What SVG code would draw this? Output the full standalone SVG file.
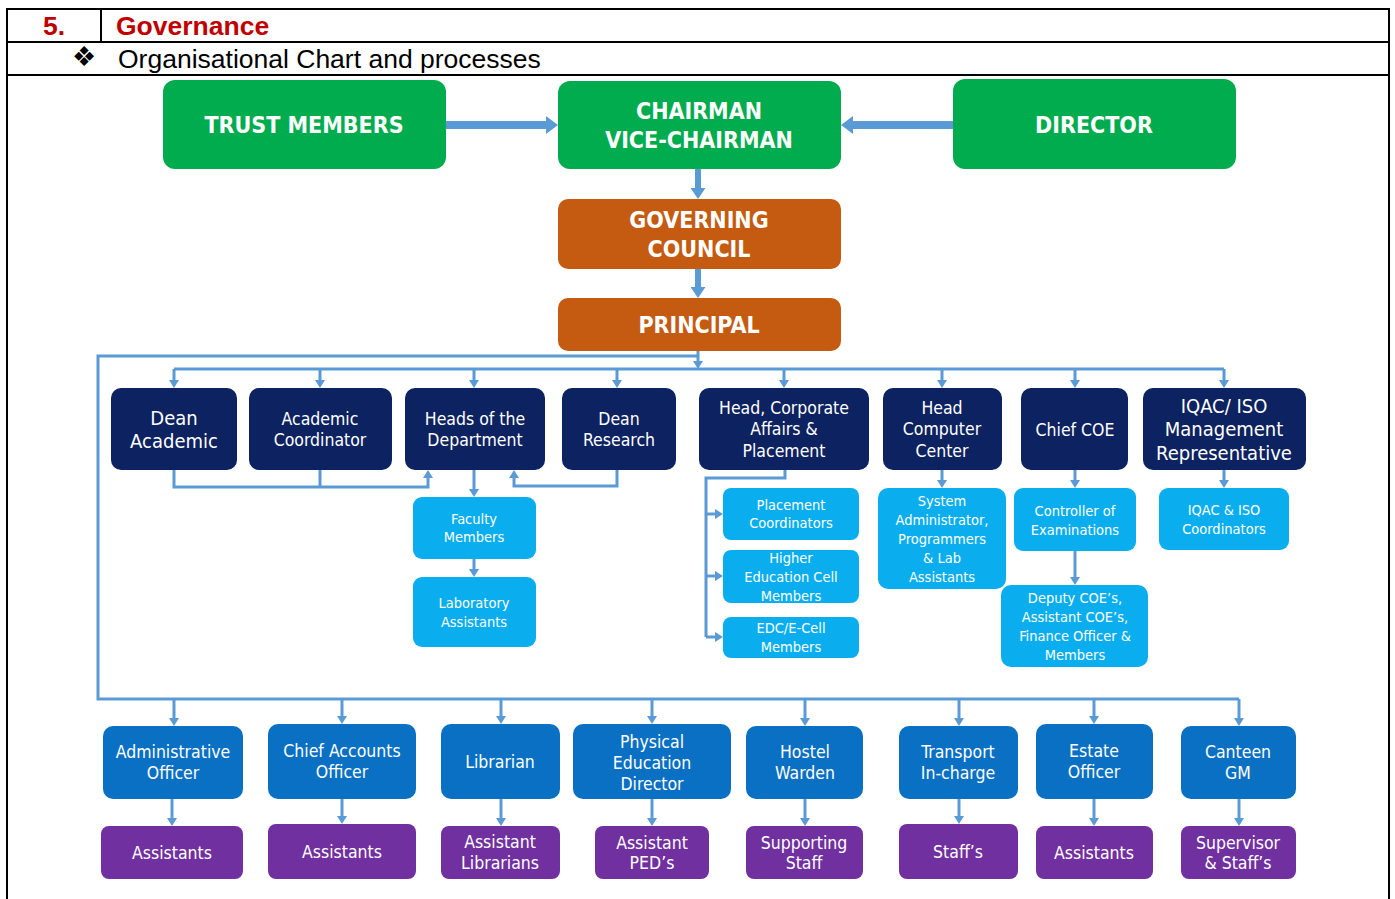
<svg xmlns="http://www.w3.org/2000/svg" width="1395" height="899" viewBox="0 0 1395 899">
<style>
.hdr{font-family:"Liberation Sans",Arial,sans-serif;font-size:26.5px}
.red{fill:#C00000;font-weight:bold}
.t{font-family:"DejaVu Sans Condensed","DejaVu Sans",sans-serif;fill:#fff;text-anchor:middle;dominant-baseline:central}
.b{font-weight:bold;font-size:23px}
.m{font-size:17.5px}
.l{font-size:20px}
.s{font-size:14.5px}
.g{fill:#00AC4E}
.o{fill:#C55A11}
.n{fill:#0D2260}
.c{fill:#0AAEEF}
.bl{fill:#0A70C4}
.p{fill:#7030A0}
.ln{stroke:#5B9BD5;stroke-width:3;fill:none}
.th{stroke:#5B9BD5;stroke-width:8;fill:none}
.tm{stroke:#5B9BD5;stroke-width:6;fill:none}
</style>
<defs>
<marker id="a" viewBox="0 0 10 10" refX="0" refY="5" markerWidth="8" markerHeight="10" preserveAspectRatio="none" markerUnits="userSpaceOnUse" orient="auto"><path d="M0,0 L10,5 L0,10 z" fill="#5B9BD5"/></marker>
<marker id="A" viewBox="0 0 10 10" refX="0" refY="5" markerWidth="12" markerHeight="18" preserveAspectRatio="none" markerUnits="userSpaceOnUse" orient="auto"><path d="M0,0 L10,5 L0,10 z" fill="#5B9BD5"/></marker>
<marker id="B" viewBox="0 0 10 10" refX="0" refY="5" markerWidth="11" markerHeight="15" preserveAspectRatio="none" markerUnits="userSpaceOnUse" orient="auto"><path d="M0,0 L10,5 L0,10 z" fill="#5B9BD5"/></marker>
</defs>
<rect width="1395" height="899" fill="#fff"/>
<g id="table" stroke="#000" stroke-width="2" fill="none">
<path d="M7,899 V9 H1389 V899"/>
<path d="M7,42 H1389 M7,75 H1389 M101,9 V42"/>
</g>
<g id="header">
<text class="hdr red" x="43" y="35">5.</text>
<text class="hdr red" x="116" y="35">Governance</text>
<text class="hdr" x="72" y="66" font-size="16">❖</text>
<text class="hdr" x="118" y="68">Organisational Chart and processes</text>
</g>
<g id="connectors">
<line class="th" x1="446" y1="125" x2="546" y2="125" marker-end="url(#A)"/>
<line class="th" x1="953" y1="125" x2="853" y2="125" marker-end="url(#A)"/>
<line class="tm" x1="698" y1="169" x2="698" y2="188" marker-end="url(#B)"/>
<line class="tm" x1="698" y1="269" x2="698" y2="287" marker-end="url(#B)"/>
<line class="ln" x1="698" y1="351" x2="698" y2="361" marker-end="url(#a)"/>
<path class="ln" d="M698,356 H98 V699 H1239"/>
<path class="ln" d="M174,369 H1224"/>
<line class="ln" x1="174" y1="369" x2="174" y2="380" marker-end="url(#a)"/>
<line class="ln" x1="320" y1="369" x2="320" y2="380" marker-end="url(#a)"/>
<line class="ln" x1="474" y1="369" x2="474" y2="380" marker-end="url(#a)"/>
<line class="ln" x1="617" y1="369" x2="617" y2="380" marker-end="url(#a)"/>
<line class="ln" x1="784" y1="369" x2="784" y2="380" marker-end="url(#a)"/>
<line class="ln" x1="942" y1="369" x2="942" y2="380" marker-end="url(#a)"/>
<line class="ln" x1="1075" y1="369" x2="1075" y2="380" marker-end="url(#a)"/>
<line class="ln" x1="1224" y1="369" x2="1224" y2="380" marker-end="url(#a)"/>
<path class="ln" d="M174,470 V487 H428 V478" marker-end="url(#a)"/>
<path class="ln" d="M320,470 V487"/>
<path class="ln" d="M617,470 V486 H514 V478" marker-end="url(#a)"/>
<line class="ln" x1="474" y1="470" x2="474" y2="489" marker-end="url(#a)"/>
<line class="ln" x1="474" y1="559" x2="474" y2="569" marker-end="url(#a)"/>
<path class="ln" d="M785,470 V478 H706 V637"/>
<line class="ln" x1="706" y1="514" x2="715" y2="514" marker-end="url(#a)"/>
<line class="ln" x1="706" y1="576" x2="715" y2="576" marker-end="url(#a)"/>
<line class="ln" x1="706" y1="637" x2="715" y2="637" marker-end="url(#a)"/>
<line class="ln" x1="942" y1="470" x2="942" y2="480" marker-end="url(#a)"/>
<line class="ln" x1="1075" y1="470" x2="1075" y2="480" marker-end="url(#a)"/>
<line class="ln" x1="1075" y1="551" x2="1075" y2="577" marker-end="url(#a)"/>
<line class="ln" x1="1224" y1="470" x2="1224" y2="480" marker-end="url(#a)"/>
<line class="ln" x1="174" y1="699" x2="174" y2="718" marker-end="url(#a)"/>
<line class="ln" x1="342" y1="699" x2="342" y2="716" marker-end="url(#a)"/>
<line class="ln" x1="501" y1="699" x2="501" y2="716" marker-end="url(#a)"/>
<line class="ln" x1="652" y1="699" x2="652" y2="716" marker-end="url(#a)"/>
<line class="ln" x1="805" y1="699" x2="805" y2="718" marker-end="url(#a)"/>
<line class="ln" x1="959" y1="699" x2="959" y2="718" marker-end="url(#a)"/>
<line class="ln" x1="1094" y1="699" x2="1094" y2="716" marker-end="url(#a)"/>
<line class="ln" x1="1239" y1="699" x2="1239" y2="718" marker-end="url(#a)"/>
<line class="ln" x1="172" y1="799" x2="172" y2="818" marker-end="url(#a)"/>
<line class="ln" x1="342" y1="799" x2="342" y2="816" marker-end="url(#a)"/>
<line class="ln" x1="501" y1="799" x2="501" y2="818" marker-end="url(#a)"/>
<line class="ln" x1="652" y1="799" x2="652" y2="818" marker-end="url(#a)"/>
<line class="ln" x1="805" y1="799" x2="805" y2="818" marker-end="url(#a)"/>
<line class="ln" x1="959" y1="799" x2="959" y2="816" marker-end="url(#a)"/>
<line class="ln" x1="1094" y1="799" x2="1094" y2="818" marker-end="url(#a)"/>
<line class="ln" x1="1239" y1="799" x2="1239" y2="818" marker-end="url(#a)"/>
</g>
<g id="trust"><rect class="g" x="163" y="80" width="283" height="89" rx="12"/><text class="t b" x="304" y="125">TRUST MEMBERS</text></g>
<g id="chairman"><rect class="g" x="558" y="81" width="283" height="88" rx="12"/><text class="t b" x="699" y="111">CHAIRMAN</text><text class="t b" x="699" y="140">VICE-CHAIRMAN</text></g>
<g id="director"><rect class="g" x="953" y="79" width="283" height="90" rx="12"/><text class="t b" x="1094" y="125">DIRECTOR</text></g>
<g id="council"><rect class="o" x="558" y="199" width="283" height="70" rx="10"/><text class="t b" x="699" y="220">GOVERNING</text><text class="t b" x="699" y="249">COUNCIL</text></g>
<g id="principal"><rect class="o" x="558" y="298" width="283" height="53" rx="10"/><text class="t b" x="699" y="325">PRINCIPAL</text></g>
<g id="dean-academic"><rect class="n" x="111" y="388" width="126" height="82" rx="10"/><text class="t l" x="174" y="418">Dean</text><text class="t l" x="174" y="441">Academic</text></g>
<g id="academic-coordinator"><rect class="n" x="249" y="388" width="143" height="82" rx="10"/><text class="t m" x="320" y="419">Academic</text><text class="t m" x="320" y="440">Coordinator</text></g>
<g id="hod"><rect class="n" x="405" y="388" width="140" height="82" rx="10"/><text class="t m" x="475" y="419">Heads of the</text><text class="t m" x="475" y="440">Department</text></g>
<g id="dean-research"><rect class="n" x="562" y="388" width="114" height="82" rx="10"/><text class="t m" x="619" y="419">Dean</text><text class="t m" x="619" y="440">Research</text></g>
<g id="head-corporate"><rect class="n" x="699" y="388" width="170" height="82" rx="10"/><text class="t m" x="784" y="408">Head, Corporate</text><text class="t m" x="784" y="429">Affairs &amp;</text><text class="t m" x="784" y="451">Placement</text></g>
<g id="head-cc"><rect class="n" x="883" y="388" width="119" height="82" rx="10"/><text class="t m" x="942" y="408">Head</text><text class="t m" x="942" y="429">Computer</text><text class="t m" x="942" y="451">Center</text></g>
<g id="chief-coe"><rect class="n" x="1021" y="388" width="107" height="82" rx="10"/><text class="t m" x="1075" y="430">Chief COE</text></g>
<g id="iqac"><rect class="n" x="1143" y="388" width="163" height="82" rx="10"/><text class="t l" x="1224" y="406">IQAC/ ISO</text><text class="t l" x="1224" y="429">Management</text><text class="t l" x="1224" y="453">Representative</text></g>
<g id="faculty"><rect class="c" x="413" y="497" width="123" height="62" rx="9"/><text class="t s" x="474" y="519">Faculty</text><text class="t s" x="474" y="537">Members</text></g>
<g id="lab"><rect class="c" x="413" y="577" width="123" height="70" rx="9"/><text class="t s" x="474" y="603">Laboratory</text><text class="t s" x="474" y="622">Assistants</text></g>
<g id="placement"><rect class="c" x="723" y="488" width="136" height="52" rx="8"/><text class="t s" x="791" y="505">Placement</text><text class="t s" x="791" y="523">Coordinators</text></g>
<g id="hec"><rect class="c" x="723" y="550" width="136" height="53" rx="8"/><text class="t s" x="791" y="558">Higher</text><text class="t s" x="791" y="577">Education Cell</text><text class="t s" x="791" y="596">Members</text></g>
<g id="edc"><rect class="c" x="723" y="617" width="136" height="41" rx="8"/><text class="t s" x="791" y="628">EDC/E-Cell</text><text class="t s" x="791" y="647">Members</text></g>
<g id="sysadmin"><rect class="c" x="878" y="488" width="128" height="101" rx="10"/><text class="t s" x="942" y="501">System</text><text class="t s" x="942" y="520">Administrator,</text><text class="t s" x="942" y="539">Programmers</text><text class="t s" x="942" y="558">&amp; Lab</text><text class="t s" x="942" y="577">Assistants</text></g>
<g id="controller"><rect class="c" x="1014" y="488" width="122" height="63" rx="9"/><text class="t s" x="1075" y="511">Controller of</text><text class="t s" x="1075" y="530">Examinations</text></g>
<g id="deputy"><rect class="c" x="1001" y="585" width="147" height="82" rx="10"/><text class="t s" x="1075" y="598">Deputy COE’s,</text><text class="t s" x="1075" y="617">Assistant COE’s,</text><text class="t s" x="1075" y="636">Finance Officer &amp;</text><text class="t s" x="1075" y="655">Members</text></g>
<g id="iqac-coord"><rect class="c" x="1159" y="488" width="130" height="62" rx="9"/><text class="t s" x="1224" y="510">IQAC &amp; ISO</text><text class="t s" x="1224" y="529">Coordinators</text></g>
<g id="admin-officer"><rect class="bl" x="103" y="726" width="140" height="73" rx="10"/><text class="t m" x="173" y="752">Administrative</text><text class="t m" x="173" y="773">Officer</text></g>
<g id="accounts"><rect class="bl" x="268" y="724" width="148" height="75" rx="10"/><text class="t m" x="342" y="751">Chief Accounts</text><text class="t m" x="342" y="772">Officer</text></g>
<g id="librarian"><rect class="bl" x="441" y="724" width="119" height="75" rx="10"/><text class="t m" x="500" y="762">Librarian</text></g>
<g id="ped"><rect class="bl" x="573" y="724" width="158" height="75" rx="10"/><text class="t m" x="652" y="742">Physical</text><text class="t m" x="652" y="763">Education</text><text class="t m" x="652" y="784">Director</text></g>
<g id="hostel"><rect class="bl" x="746" y="726" width="117" height="73" rx="10"/><text class="t m" x="805" y="752">Hostel</text><text class="t m" x="805" y="773">Warden</text></g>
<g id="transport"><rect class="bl" x="899" y="726" width="119" height="73" rx="10"/><text class="t m" x="958" y="752">Transport</text><text class="t m" x="958" y="773">In-charge</text></g>
<g id="estate"><rect class="bl" x="1036" y="724" width="117" height="75" rx="10"/><text class="t m" x="1094" y="751">Estate</text><text class="t m" x="1094" y="772">Officer</text></g>
<g id="canteen"><rect class="bl" x="1181" y="726" width="115" height="73" rx="10"/><text class="t m" x="1238" y="752">Canteen</text><text class="t m" x="1238" y="773">GM</text></g>
<g id="p-admin"><rect class="p" x="101" y="826" width="142" height="53" rx="8"/><text class="t m" x="172" y="853">Assistants</text></g>
<g id="p-accounts"><rect class="p" x="268" y="824" width="148" height="55" rx="8"/><text class="t m" x="342" y="852">Assistants</text></g>
<g id="p-lib"><rect class="p" x="441" y="826" width="119" height="53" rx="8"/><text class="t m" x="500" y="842">Assistant</text><text class="t m" x="500" y="863">Librarians</text></g>
<g id="p-ped"><rect class="p" x="595" y="826" width="114" height="53" rx="8"/><text class="t m" x="652" y="843">Assistant</text><text class="t m" x="652" y="863">PED’s</text></g>
<g id="p-hostel"><rect class="p" x="746" y="826" width="117" height="53" rx="8"/><text class="t m" x="804" y="843">Supporting</text><text class="t m" x="804" y="863">Staff</text></g>
<g id="p-transport"><rect class="p" x="899" y="824" width="119" height="55" rx="8"/><text class="t m" x="958" y="852">Staff’s</text></g>
<g id="p-estate"><rect class="p" x="1036" y="826" width="117" height="53" rx="8"/><text class="t m" x="1094" y="853">Assistants</text></g>
<g id="p-canteen"><rect class="p" x="1181" y="826" width="115" height="53" rx="8"/><text class="t m" x="1238" y="843">Supervisor</text><text class="t m" x="1238" y="863">&amp; Staff’s</text></g>
</svg>
